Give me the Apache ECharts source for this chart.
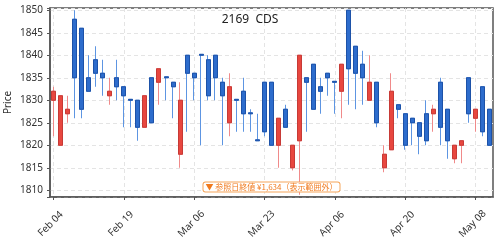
<!DOCTYPE html>
<html>
<head>
<meta charset="utf-8">
<script src="https://cdn.jsdelivr.net/npm/echarts@6/dist/echarts.min.js"></script>
<style>html,body{margin:0;padding:0;background:#fff}#c{width:500px;height:240px}</style>
</head>
<body>
<div id="c"></div>
<script>
const dates = ['Feb 04','Feb 05','Feb 06','Feb 09','Feb 10','Feb 12','Feb 13','Feb 16','Feb 17','Feb 18',
  'Feb 19','Feb 20','Feb 24','Feb 25','Feb 26','Feb 27','Mar 02','Mar 03','Mar 04','Mar 05',
  'Mar 06','Mar 09','Mar 10','Mar 11','Mar 12','Mar 13','Mar 16','Mar 17','Mar 18','Mar 19',
  'Mar 23','Mar 24','Mar 25','Mar 26','Mar 27','Mar 30','Mar 31','Apr 01','Apr 02','Apr 03',
  'Apr 06','Apr 07','Apr 08','Apr 09','Apr 10','Apr 13','Apr 14','Apr 15','Apr 16','Apr 17',
  'Apr 20','Apr 21','Apr 22','Apr 23','Apr 24','Apr 27','Apr 28','Apr 30','May 01','May 07',
  'May 08','May 11','May 12'];
const opens = [1830,1820,1827,1848,1846,1835,1839,1836,1831,1835,
  1833,1830.2,1830,1824,1835,1834,1835.2,1834,1818,1840,
  1836,1840.2,1839,1840,1834,1825,1830.2,1832,1827.2,1821.2,
  1834,1834,1820,1828,1815,1821,1835,1838,1833,1836,
  1834.2,1832,1850,1842,1838,1830,1834,1815,1819,1829,
  1827,1826,1825,1827,1827,1834,1828,1817,1820,1835,
  1826,1833,1828];
const closes = [1832,1831,1828,1835,1828,1832,1836,1835,1832,1833,
  1831,1830,1824,1831,1825,1837,1835,1833,1830,1836,
  1835,1840,1831,1835,1831,1833,1830,1827,1827,1821,
  1823,1820,1826,1824,1820,1840,1834,1828,1832,1835,
  1834,1838,1837,1836,1835,1834,1825,1818,1832,1828,
  1820,1825,1822,1821,1828,1824,1821,1820,1821,1827,
  1828,1823,1820];
const lows = [1822,1820,1825,1826,1826,1832,1833,1831,1829,1830,
  1824,1824,1821,1824,1825,1829,1830,1826,1815,1823,
  1830,1820,1830,1830,1820,1822,1823,1823,1823,1821,
  1822,1820,1815,1824,1814.4,1809,1823,1828,1827,1831,
  1827,1826,1829,1828,1829,1830,1824,1814,1819,1826,
  1819,1820,1818,1820,1823,1820,1817,1816,1816,1825,
  1823,1822,1820];
const highs = [1833,1831,1831,1850,1846,1840,1842,1839,1835,1839,
  1833,1830.2,1830,1831,1835,1837,1835.2,1834,1834,1840,
  1836,1840.2,1840,1840,1835,1836,1830.2,1835,1828,1827,
  1834,1834,1826,1829,1820,1840,1835,1838,1835,1836,
  1834.2,1838,1850,1842,1841,1840,1834,1820,1836,1829,
  1827,1826,1825,1830,1829,1835,1828,1820,1821,1835,
  1828,1833,1828];
const yTicks = { min: 1808.5, max: 1850.5 };
const titleText = '2169  CDS';
const noteText = '▼ 参照日終値 ¥1,634（表示範囲外）';

const full = dates.map((d, i) => [opens[i], closes[i], lows[i], highs[i]]);
const bodies = dates.map((d, i) => {
  const lo = Math.min(opens[i], closes[i]), hi = Math.max(opens[i], closes[i]);
  return [opens[i], closes[i], lo, hi];
});

const FONT = "'Noto Sans', 'Noto Sans CJK JP', sans-serif";
const chart = echarts.init(document.getElementById('c'), null, { renderer: 'canvas' });
const grid = { left: 50, right: 7, top: 8, bottom: 43 };
chart.setOption({
  animation: false,
  backgroundColor: '#fff',
  textStyle: { fontFamily: FONT },
  title: {
    text: titleText, left: 'center', top: 14, padding: 0,
    textStyle: { fontSize: 12, fontWeight: 'normal', color: '#222', fontFamily: FONT }
  },
  grid: Object.assign({ show: true, borderColor: '#555', borderWidth: 1.5, backgroundColor: 'transparent',
    containLabel: false, outerBoundsMode: 'none' }, grid),
  xAxis: {
    type: 'category', data: dates, boundaryGap: true,
    axisLine: { lineStyle: { color: '#555', width: 1.5 } },
    axisTick: { show: true, interval: 9, alignWithLabel: true, length: 3, lineStyle: { color: '#555' } },
    axisLabel: { interval: 9, rotate: 45, align: 'center', verticalAlign: 'middle', margin: 24,
      padding: [0, 8, 0, 0],
      fontSize: 10, color: '#333', fontFamily: FONT },
    splitLine: { show: true, interval: 9, alignWithLabel: true, lineStyle: { color: '#e4e4e4', type: [4, 3], width: 1 } }
  },
  yAxis: {
    type: 'value', min: yTicks.min, max: yTicks.max, splitNumber: 8, scale: true,
    name: 'Price', nameLocation: 'middle', nameGap: 37, nameMoveOverlap: false,
    nameTextStyle: { fontSize: 10, color: '#333', fontFamily: FONT },
    axisLine: { show: true, lineStyle: { color: '#555', width: 1.5 } },
    axisTick: { show: true, length: 3, lineStyle: { color: '#555' } },
    axisLabel: { fontSize: 10, color: '#333', margin: 7, fontFamily: FONT,
      formatter: v => (Math.abs(v % 5) < 1e-6 ? String(v) : '') },
    splitLine: { show: true, lineStyle: { color: '#e4e4e4', type: [4, 3], width: 1 } }
  },
  series: [
    {
      type: 'candlestick', data: full, barWidth: 4.5, z: 2,
      itemStyle: { color: '#f08a8a', color0: '#5d95e2', borderColor: '#f08a8a', borderColor0: '#5d95e2', borderWidth: 1 }
    },
    {
      type: 'candlestick', data: bodies, barWidth: 4.5, z: 3,
      itemStyle: { color: '#e8473f', color0: '#2d6ccc', borderColor: '#c73a36', borderColor0: '#1d52a8', borderWidth: 1 }
    }
  ],
  graphic: [{
    type: 'text', x: 271.5, y: 187, z: 100,
    style: {
      text: noteText, align: 'center', verticalAlign: 'middle',
      fill: '#f07a1e', font: "8px 'Noto Sans CJK JP', 'Noto Sans', sans-serif",
      backgroundColor: '#fff', borderColor: '#f5a55a', borderWidth: 1, borderRadius: 2,
      padding: [1, 2, 0, 2]
    }
  }]
});
</script>
</body>
</html>
